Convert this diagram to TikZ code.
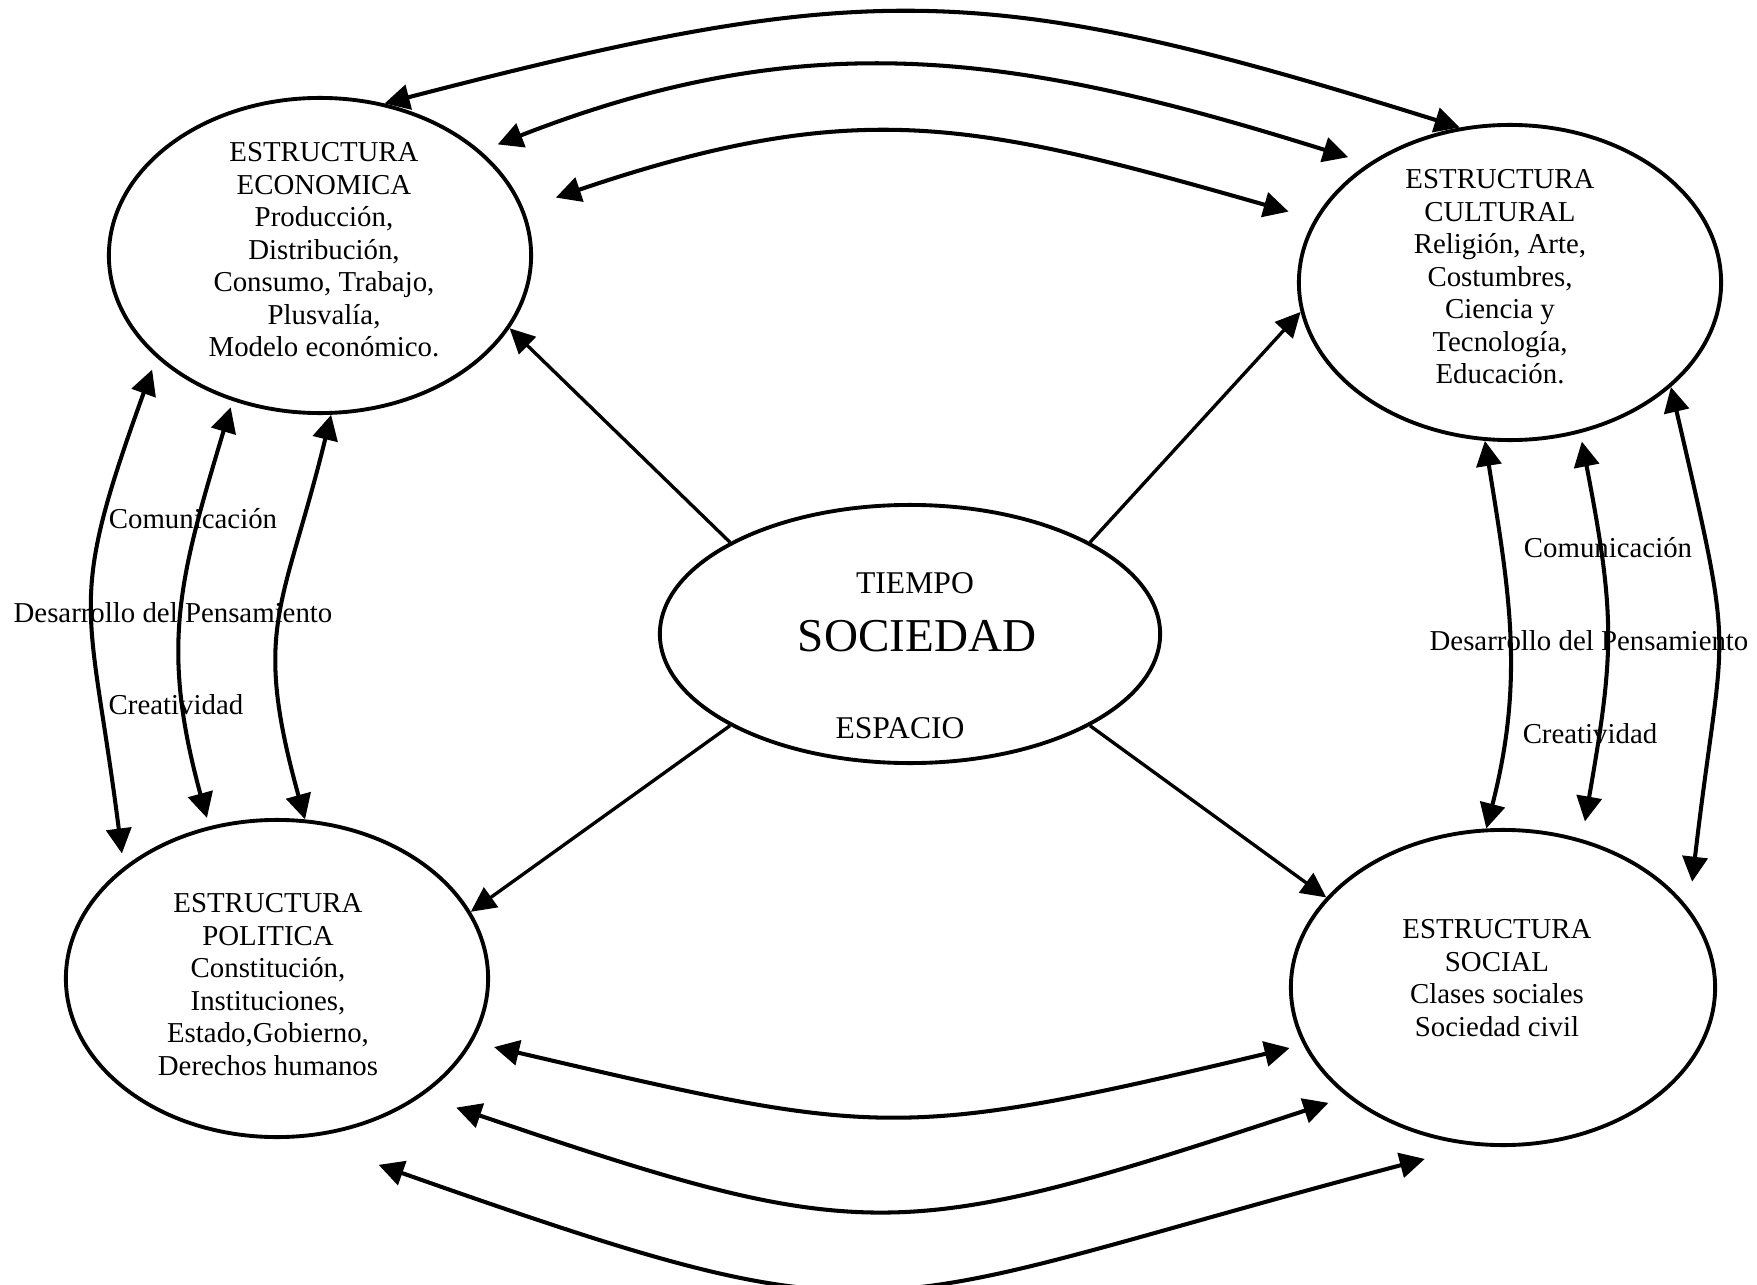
\documentclass[tikz,border=0pt]{standalone}
\usepackage{fontspec}
\setmainfont{Liberation Serif}
\usepackage{tikz}
\usetikzlibrary{shapes,arrows.meta}
\tikzset{estructura/.style={draw, ellipse, inner sep=0pt, line width=1.1pt},
  texto/.style={align=center, font=\fontsize{8.2}{9.25}\selectfont},
  flechados/.style={{Triangle[length=0.25cm,width=0.25cm]}-{Triangle[length=0.25cm,width=0.25cm]}, line width=1.15pt},
  flecha/.style={-{Triangle[length=0.25cm,width=0.24cm]}, line width=0.95pt}}

\begin{document}
\begin{tikzpicture}[x=0.01cm, y=-0.01cm]
\useasboundingbox (0,0) rectangle (1757,1285);
\node[estructura, minimum width=4.22cm, minimum height=3.15cm] (econ) at (320,255.5) {};
\node[estructura, minimum width=4.22cm, minimum height=3.15cm] (cult) at (1510,282.5) {};
\node[estructura, minimum width=4.22cm, minimum height=3.17cm] (poli) at (277,978.5) {};
\node[estructura, minimum width=4.24cm, minimum height=3.15cm] (soci) at (1503,987.5) {};
\node[estructura, minimum width=5.0cm, minimum height=2.58cm] (soc) at (910,634) {};
\node[texto] (econtxt) at (324,250) {ESTRUCTURA\\ ECONOMICA\\ Producción,\\ Distribución,\\ Consumo, Trabajo,\\ Plusvalía,\\ Modelo económico.};
\node[texto] (culttxt) at (1500,277) {ESTRUCTURA\\ CULTURAL\\ Religión, Arte,\\ Costumbres,\\ Ciencia y\\ Tecnología,\\ Educación.};
\node[texto] (politxt) at (268,984.5) {ESTRUCTURA\\ POLITICA\\ Constitución,\\ Instituciones,\\ Estado,Gobierno,\\ Derechos humanos};
\node[texto] (socitxt) at (1497,978) {ESTRUCTURA\\ SOCIAL\\ Clases sociales\\ Sociedad civil};
\node[font=\fontsize{9}{10}\selectfont] (tiempo) at (915,583) {TIEMPO};
\node[font=\fontsize{13.4}{15}\selectfont] (sociedad) at (917,636) {SOCIEDAD};
\node[font=\fontsize{9}{10}\selectfont] (espacio) at (900,728) {ESPACIO};
\node[texto] (com1) at (193,519) {Comunicación};
\node[texto] (des1) at (173,613) {Desarrollo del Pensamiento};
\node[texto] (cre1) at (176,705) {Creatividad};
\node[texto] (com2) at (1608,548) {Comunicación};
\node[texto] (des2) at (1589,641) {Desarrollo del Pensamiento};
\node[texto] (cre2) at (1590,734) {Creatividad};
\draw[flecha] (soc.153) -- (econ.-21.1);
\draw[flecha] (soc.27) -- (cult.188.3);
\draw[flecha] (soc.-153) -- (poli.19.7);
\draw[flecha] (soc.-27) -- (soci.153);
\draw[flechados] (econ.67.6) .. controls (866.5,-21.5) and (982.5,-22) .. (cult.108.9);
\draw[flechados, shorten <=0.18cm, shorten >=0.21cm] (econ.33.3) .. controls (814,20.8) and (1023,55.5) .. (cult.140.8);
\draw[flechados, shorten <=0.34cm, shorten >=0.27cm] (econ.13.3) .. controls (858.8,95) and (974,121.8) .. (cult.162.2);
\draw[flechados, shorten <=0.22cm, shorten >=0.14cm] (poli.-18.5) .. controls (879,1136.8) and (896,1141.7) .. (soci.-164.8);
\draw[flechados, shorten <=0.36cm, shorten >=0.195cm] (poli.-39.4) .. controls (867.4,1246.9) and (898,1244.7) .. (soci.-145.8);
\draw[flechados, shorten <=0.81cm, shorten >=0.52cm] (poli.-81.7) .. controls (907,1351) and (851,1310) .. (soci.-100.9);
\draw[flechados, shorten <=0.127cm, shorten >=0.137cm] (econ.-148.6) .. controls (65,610) and (89.5,598.5) .. (poli.144.1);
\draw[flechados, shorten <=0.066cm, shorten >=0.087cm] (econ.-121.6) .. controls (179,579.4) and (160,646.5) .. (poli.114.2);
\draw[flechados] (econ.-86.2) .. controls (283.5,610) and (251.5,625.9) .. (poli.80.1);
\draw[flechados] (cult.-99.7) .. controls (1509.5,593.1) and (1524.7,679.2) .. (soci.96);
\draw[flechados, shorten <=0.086cm, shorten >=0.18cm] (cult.-65.4) .. controls (1616,618) and (1614,653.6) .. (soci.62.5);
\draw[flechados, shorten >=0.27cm] (cult.-33.3) .. controls (1737.5,674.1) and (1723.5,613) .. (soci.23.8);
\end{tikzpicture}
\end{document}
